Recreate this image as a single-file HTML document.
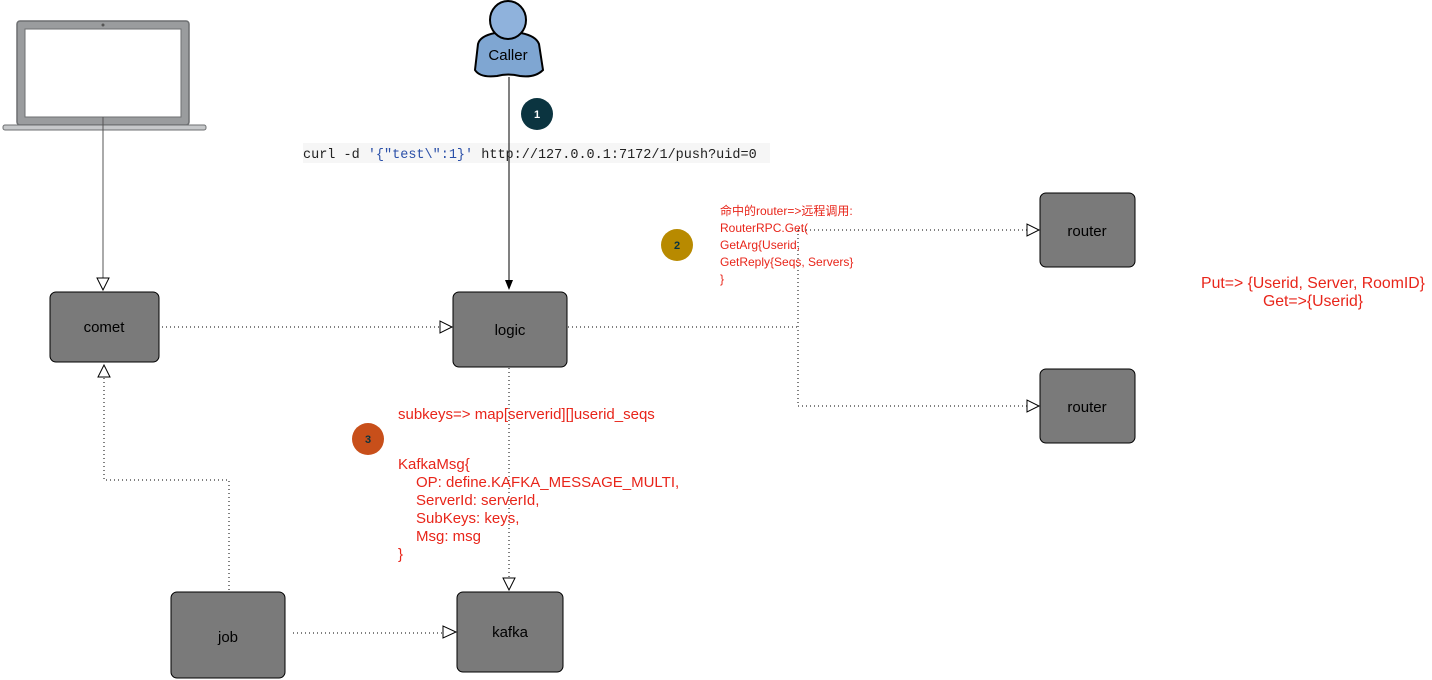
<!DOCTYPE html>
<html><head><meta charset="utf-8"><style>
body{margin:0;background:#fff;width:1432px;height:680px;overflow:hidden}
svg{display:block}
.b{fill:#7a7a7a;stroke:#000;stroke-width:1}
.t{font-family:"Liberation Sans",sans-serif;font-size:15px;fill:#000;text-anchor:middle}
.r{font-family:"Liberation Sans","Noto Sans CJK SC",sans-serif;fill:#e8251a}
.d{stroke:#000;stroke-width:1;stroke-dasharray:1 3;fill:none}
.ah{fill:#fff;stroke:#000;stroke-width:1}
</style></head><body>
<svg width="1432" height="680" viewBox="0 0 1432 680">
<rect x="17" y="21" width="172" height="104" rx="3" fill="#9a9c9e" stroke="#6d6f71" stroke-width="1.5"/>
<rect x="25" y="29" width="156" height="88" fill="#fff" stroke="#6d6f71"/>
<circle cx="103" cy="25" r="1.5" fill="#555"/>
<rect x="3" y="125" width="203" height="5" rx="2" fill="#c6c8ca" stroke="#6d6f71"/>
<line x1="103" y1="117" x2="103" y2="278" stroke="#555"/>
<polygon class="ah" points="97,278 109,278 103,290"/>
<path d="M478,44 Q480,36 495,33 L521,33 Q536,36 539,44 L543,70 Q535,78 520,76 Q508,73 497,76 Q480,78 475,70 Z" fill="#7fa6d2" stroke="#000" stroke-width="2"/>
<ellipse cx="508" cy="20" rx="18" ry="19" fill="#8fb2dc" stroke="#000" stroke-width="2"/>
<text x="508" y="60" class="t">Caller</text>
<line x1="509" y1="77" x2="509" y2="280" stroke="#000"/>
<polygon points="505,280 513,280 509,290" fill="#000"/>
<circle cx="537" cy="114" r="16" fill="#0b3440"/>
<text x="537" y="118" font-family="Liberation Sans" font-size="11" font-weight="bold" fill="#fff" text-anchor="middle">1</text>
<rect x="303" y="143" width="467" height="20" fill="#f6f6f6"/>
<line x1="509" y1="140" x2="509" y2="165" stroke="#000"/>
<text x="303" y="158" font-family="Liberation Mono,monospace" font-size="13.5" fill="#222" xml:space="preserve">curl -d <tspan fill="#2a4fa8">'{"test\":1}'</tspan> http://127.0.0.1:7172/1/push?uid=0</text>
<rect class="b" x="50" y="292" width="109" height="70" rx="6"/><text class="t" x="104" y="332">comet</text>
<rect class="b" x="453" y="292" width="114" height="75" rx="6"/><text class="t" x="510" y="335">logic</text>
<rect class="b" x="1040" y="193" width="95" height="74" rx="6"/><text class="t" x="1087" y="236">router</text>
<rect class="b" x="1040" y="369" width="95" height="74" rx="6"/><text class="t" x="1087" y="412">router</text>
<rect class="b" x="171" y="592" width="114" height="86" rx="6"/><text class="t" x="228" y="642">job</text>
<rect class="b" x="457" y="592" width="106" height="80" rx="6"/><text class="t" x="510" y="637">kafka</text>
<path class="d" d="M162,327 H440"/><polygon class="ah" points="440,321 440,333 452,327"/>
<path class="d" d="M568,327 H798 M798,230 V406 M798,230 H1027 M798,406 H1027"/>
<polygon class="ah" points="1027,224 1027,236 1039,230"/>
<polygon class="ah" points="1027,400 1027,412 1039,406"/>
<path class="d" d="M509,368 V578"/><polygon class="ah" points="503,578 515,578 509,590"/>
<path class="d" d="M229,590 V480 H104 V377"/><polygon class="ah" points="98,377 110,377 104,365"/>
<path class="d" d="M293,633 H443"/><polygon class="ah" points="443,626 443,638 456,632"/>
<circle cx="677" cy="245" r="16" fill="#b88a00"/>
<text x="677" y="249" font-family="Liberation Sans" font-size="11" font-weight="bold" fill="#0b3440" text-anchor="middle">2</text>
<g class="r" font-size="12">
<text x="720" y="215">命中的router=>远程调用:</text>
<text x="720" y="232">RouterRPC.Get(</text>
<text x="720" y="249">GetArg{Userid,</text>
<text x="720" y="266">GetReply{Seqs, Servers}</text>
<text x="720" y="283">}</text>
</g>
<g class="r" font-size="15">
<text x="1313" y="288" text-anchor="middle" font-size="15.8">Put=> {Userid, Server, RoomID}</text>
<text x="1313" y="306" text-anchor="middle" font-size="15.8">Get=>{Userid}</text>
<text x="398" y="419">subkeys=> map[serverid][]userid_seqs</text>
<text x="398" y="469">KafkaMsg{</text>
<text x="416" y="487">OP: define.KAFKA_MESSAGE_MULTI,</text>
<text x="416" y="505">ServerId: serverId,</text>
<text x="416" y="523">SubKeys: keys,</text>
<text x="416" y="541">Msg: msg</text>
<text x="398" y="559">}</text>
</g>
<circle cx="368" cy="439" r="16" fill="#c84f1a"/>
<text x="368" y="443" font-family="Liberation Sans" font-size="11" font-weight="bold" fill="#0b3440" text-anchor="middle">3</text>
</svg>
</body></html>
